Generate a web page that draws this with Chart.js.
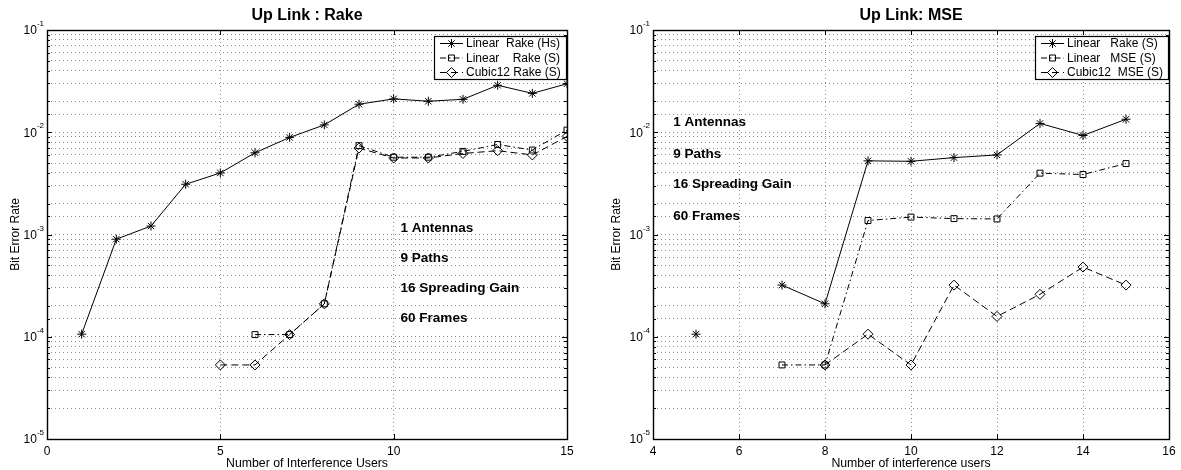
<!DOCTYPE html>
<html>
<head>
<meta charset="utf-8">
<script src="https://cdn.jsdelivr.net/npm/chart.js@4.4.1/dist/chart.umd.min.js"></script>
<style>
  body { margin: 0; background: #fff; }
  #wrap { position: relative; width: 1181px; height: 470px; }
  canvas { position: absolute; top: 0; }
</style>
</head>
<body>
<div id="wrap">
  <canvas id="chartRake" width="590" height="470" style="left:0"></canvas>
  <canvas id="chartMse" width="591" height="470" style="left:590px"></canvas>
</div>
<script>
// LEFT PANEL: Up Link : Rake
const rakeUsers = [1, 2, 3, 4, 5, 6, 7, 8, 9, 10, 11, 12, 13, 14, 15];
const linearRakeHs = [1.06e-4, 9.0e-4, 1.21e-3, 3.1e-3, 4.0e-3, 6.3e-3, 8.9e-3, 1.18e-2, 1.88e-2, 2.12e-2, 2.01e-2, 2.1e-2, 2.88e-2, 2.4e-2, 2.98e-2];
const linearRakeS = [null, null, null, null, null, 1.05e-4, 1.05e-4, 2.1e-4, 7.4e-3, 5.7e-3, 5.7e-3, 6.5e-3, 7.6e-3, 6.7e-3, 1.05e-2];
const cubicRakeS = [null, null, null, null, 5.3e-5, 5.3e-5, 1.05e-4, 2.1e-4, 7.0e-3, 5.6e-3, 5.6e-3, 6.2e-3, 6.6e-3, 6.0e-3, 9.1e-3];

// RIGHT PANEL: Up Link: MSE
const mseUsers = [5, 6, 7, 8, 9, 10, 11, 12, 13, 14, 15];
const linearRakeS2 = [1.06e-4, null, 3.2e-4, 2.1e-4, 5.25e-3, 5.2e-3, 5.65e-3, 6.0e-3, 1.22e-2, 9.3e-3, 1.34e-2];
const linearMseS = [null, null, 5.3e-5, 5.3e-5, 1.37e-3, 1.48e-3, 1.43e-3, 1.42e-3, 3.98e-3, 3.86e-3, 4.94e-3];
const cubicMseS = [null, null, null, 5.3e-5, 1.06e-4, 5.3e-5, 3.2e-4, 1.58e-4, 2.6e-4, 4.8e-4, 3.2e-4];

// text notes (placed in data coordinates)
const noteText = ['1 Antennas', '9 Paths', '16 Spreading Gain', '60 Frames'];
const rakeNoteX = 10.2;
const rakeNoteY = [1.16e-3, 5.9e-4, 2.95e-4, 1.5e-4];
const mseNoteX = 4.47;
const mseNoteY = [1.26e-2, 6.1e-3, 3.1e-3, 1.5e-3];

const FONT = '"Liberation Sans", Arial, Helvetica, sans-serif';

function pts(xs, ys) {
  return xs.map((x, i) => ({ x: x, y: ys[i] }));
}

// matlab look: frame, inner ticks, 10^n labels, notes, boxed legend
const matlabAxes = {
  id: 'matlabAxes',
  afterDraw(chart, args, opts) {
    const { ctx, chartArea: a, scales: { x, y } } = chart;
    ctx.save();
    ctx.strokeStyle = '#000';
    ctx.lineWidth = 1;
    ctx.setLineDash([]);
    // tick marks inside the box
    ctx.beginPath();
    x.ticks.forEach(t => {
      const px = Math.round(x.getPixelForValue(t.value)) + 0.5;
      ctx.moveTo(px, a.bottom); ctx.lineTo(px, a.bottom - 5);
      ctx.moveTo(px, a.top); ctx.lineTo(px, a.top + 5);
    });
    y.ticks.forEach(t => {
      const py = Math.round(y.getPixelForValue(t.value)) + 0.5;
      const e = Math.log10(t.value);
      const len = Math.abs(e - Math.round(e)) < 1e-6 ? 5 : 3;
      ctx.moveTo(a.left, py); ctx.lineTo(a.left + len, py);
      ctx.moveTo(a.right, py); ctx.lineTo(a.right - len, py);
    });
    ctx.stroke();
    // frame
    ctx.lineWidth = 1.4;
    ctx.strokeRect(Math.round(a.left) + 0.5, Math.round(a.top) + 0.5, Math.round(a.width), Math.round(a.height));

    // y labels 10^n
    ctx.fillStyle = '#000';
    ctx.textBaseline = 'middle';
    y.ticks.forEach(t => {
      const e = Math.log10(t.value);
      if (Math.abs(e - Math.round(e)) > 1e-6) return;
      const py = y.getPixelForValue(t.value);
      const exp = String(Math.round(e));
      ctx.font = '8px ' + FONT;
      const ew = ctx.measureText(exp).width;
      const right = a.left - 3;
      ctx.textAlign = 'right';
      ctx.fillText(exp, right, py - 6);
      ctx.font = '12px ' + FONT;
      ctx.fillText('10', right - ew, py + 1);
    });

    // notes
    ctx.textAlign = 'left';
    ctx.font = 'bold 13.5px ' + FONT;
    opts.notes.forEach((s, i) => {
      ctx.fillText(s, x.getPixelForValue(opts.noteX), y.getPixelForValue(opts.noteY[i]));
    });

    // legend box
    const ds = chart.data.datasets;
    ctx.font = '12px ' + FONT;
    const tw = Math.max(...ds.map(d => ctx.measureText(d.label).width));
    const bw = Math.round(32 + tw + 5), bh = 43;
    const bx = Math.round(a.right) - 1 - bw, by = Math.round(a.top) + 6;
    ctx.fillStyle = '#fff';
    ctx.fillRect(bx, by, bw, bh);
    ctx.lineWidth = 1.2;
    ctx.strokeRect(bx + 0.5, by + 0.5, bw, bh);
    ds.forEach((d, i) => {
      const ry = by + 7.5 + i * 14.5;
      ctx.strokeStyle = '#000';
      ctx.lineWidth = 1;
      ctx.setLineDash(d.borderDash || []);
      ctx.beginPath();
      ctx.moveTo(bx + 6, ry); ctx.lineTo(bx + 29, ry);
      ctx.stroke();
      ctx.setLineDash([]);
      ctx.fillStyle = 'rgba(0,0,0,0)';
      Chart.helpers.drawPoint(ctx, { pointStyle: d.pointStyle, radius: d.pointRadius, borderWidth: 1, rotation: 0 }, bx + 17.5, ry);
      ctx.fillStyle = '#000';
      ctx.fillText(d.label, bx + 32, ry + 0.5);
    });
    ctx.restore();
  }
};

function makeChart(id, cfg) {
  const grid = { color: '#8a8a8a', lineWidth: 1, drawTicks: false };
  const border = { display: false, dash: [1, 3] };
  return new Chart(document.getElementById(id), {
    type: 'line',
    data: {
      datasets: [
        { label: cfg.labels[0], data: pts(cfg.users, cfg.series[0]), borderColor: '#000', borderWidth: 1,
          pointStyle: 'star', pointRadius: 4.5, pointBorderColor: '#000', pointBackgroundColor: 'rgba(0,0,0,0)', borderDash: [] },
        { label: cfg.labels[1], data: pts(cfg.users, cfg.series[1]), borderColor: '#000', borderWidth: 1,
          pointStyle: 'rect', pointRadius: 4.2, pointBorderColor: '#000', pointBackgroundColor: 'rgba(0,0,0,0)', borderDash: [6, 3, 1.5, 3] },
        { label: cfg.labels[2], data: pts(cfg.users, cfg.series[2]), borderColor: '#000', borderWidth: 1,
          pointStyle: 'rectRot', pointRadius: 5, pointBorderColor: '#000', pointBackgroundColor: 'rgba(0,0,0,0)', borderDash: [7, 4] }
      ]
    },
    options: {
      responsive: false,
      animation: false,
      devicePixelRatio: 1,
      spanGaps: false,
      elements: { line: { tension: 0 }, point: { borderWidth: 1 } },
      layout: { padding: { left: 0, right: cfg.padRight, top: 0, bottom: 0 } },
      plugins: {
        legend: { display: false },
        tooltip: { enabled: false },
        title: {
          display: true, text: cfg.title, color: '#000', fullSize: false,
          font: { family: FONT, size: 16, weight: 'bold' },
          padding: { top: 6, bottom: 4.8 }
        },
        matlabAxes: { notes: noteText, noteX: cfg.noteX, noteY: cfg.noteY }
      },
      scales: {
        x: {
          type: 'linear', min: cfg.xMin, max: cfg.xMax,
          ticks: { stepSize: cfg.xStep, padding: 5, color: '#000', font: { family: FONT, size: 12 } },
          grid: grid, border: border,
          title: { display: true, text: cfg.xTitle, color: '#000', font: { family: FONT, size: 12.3, lineHeight: 1 }, padding: 0 },
          afterFit(s) { s.height = 31; }
        },
        y: {
          type: 'logarithmic', min: 1e-5, max: 1e-1,
          ticks: { autoSkip: false, callback: () => '' },
          grid: grid, border: border,
          title: { display: true, text: 'Bit Error Rate', color: '#000', font: { family: FONT, size: 12 }, padding: { top: cfg.yTitlePad, bottom: 0 } },
          afterFit(s) { s.width = cfg.yWidth; }
        }
      }
    },
    plugins: [matlabAxes]
  });
}

makeChart('chartRake', {
  title: 'Up Link : Rake',
  users: rakeUsers,
  series: [linearRakeHs, linearRakeS, cubicRakeS],
  labels: ['Linear  Rake (Hs)', 'Linear    Rake (S)', 'Cubic12 Rake (S)'],
  xMin: 0, xMax: 15, xStep: 5,
  xTitle: 'Number of Interference Users',
  noteX: rakeNoteX, noteY: rakeNoteY,
  yWidth: 47, yTitlePad: 8, padRight: 23
});

makeChart('chartMse', {
  title: 'Up Link: MSE',
  users: mseUsers,
  series: [linearRakeS2, linearMseS, cubicMseS],
  labels: ['Linear   Rake (S)', 'Linear   MSE (S)', 'Cubic12  MSE (S)'],
  xMin: 4, xMax: 16, xStep: 2,
  xTitle: 'Number of interference users',
  noteX: mseNoteX, noteY: mseNoteY,
  yWidth: 63, yTitlePad: 19, padRight: 12
});
</script>
</body>
</html>
